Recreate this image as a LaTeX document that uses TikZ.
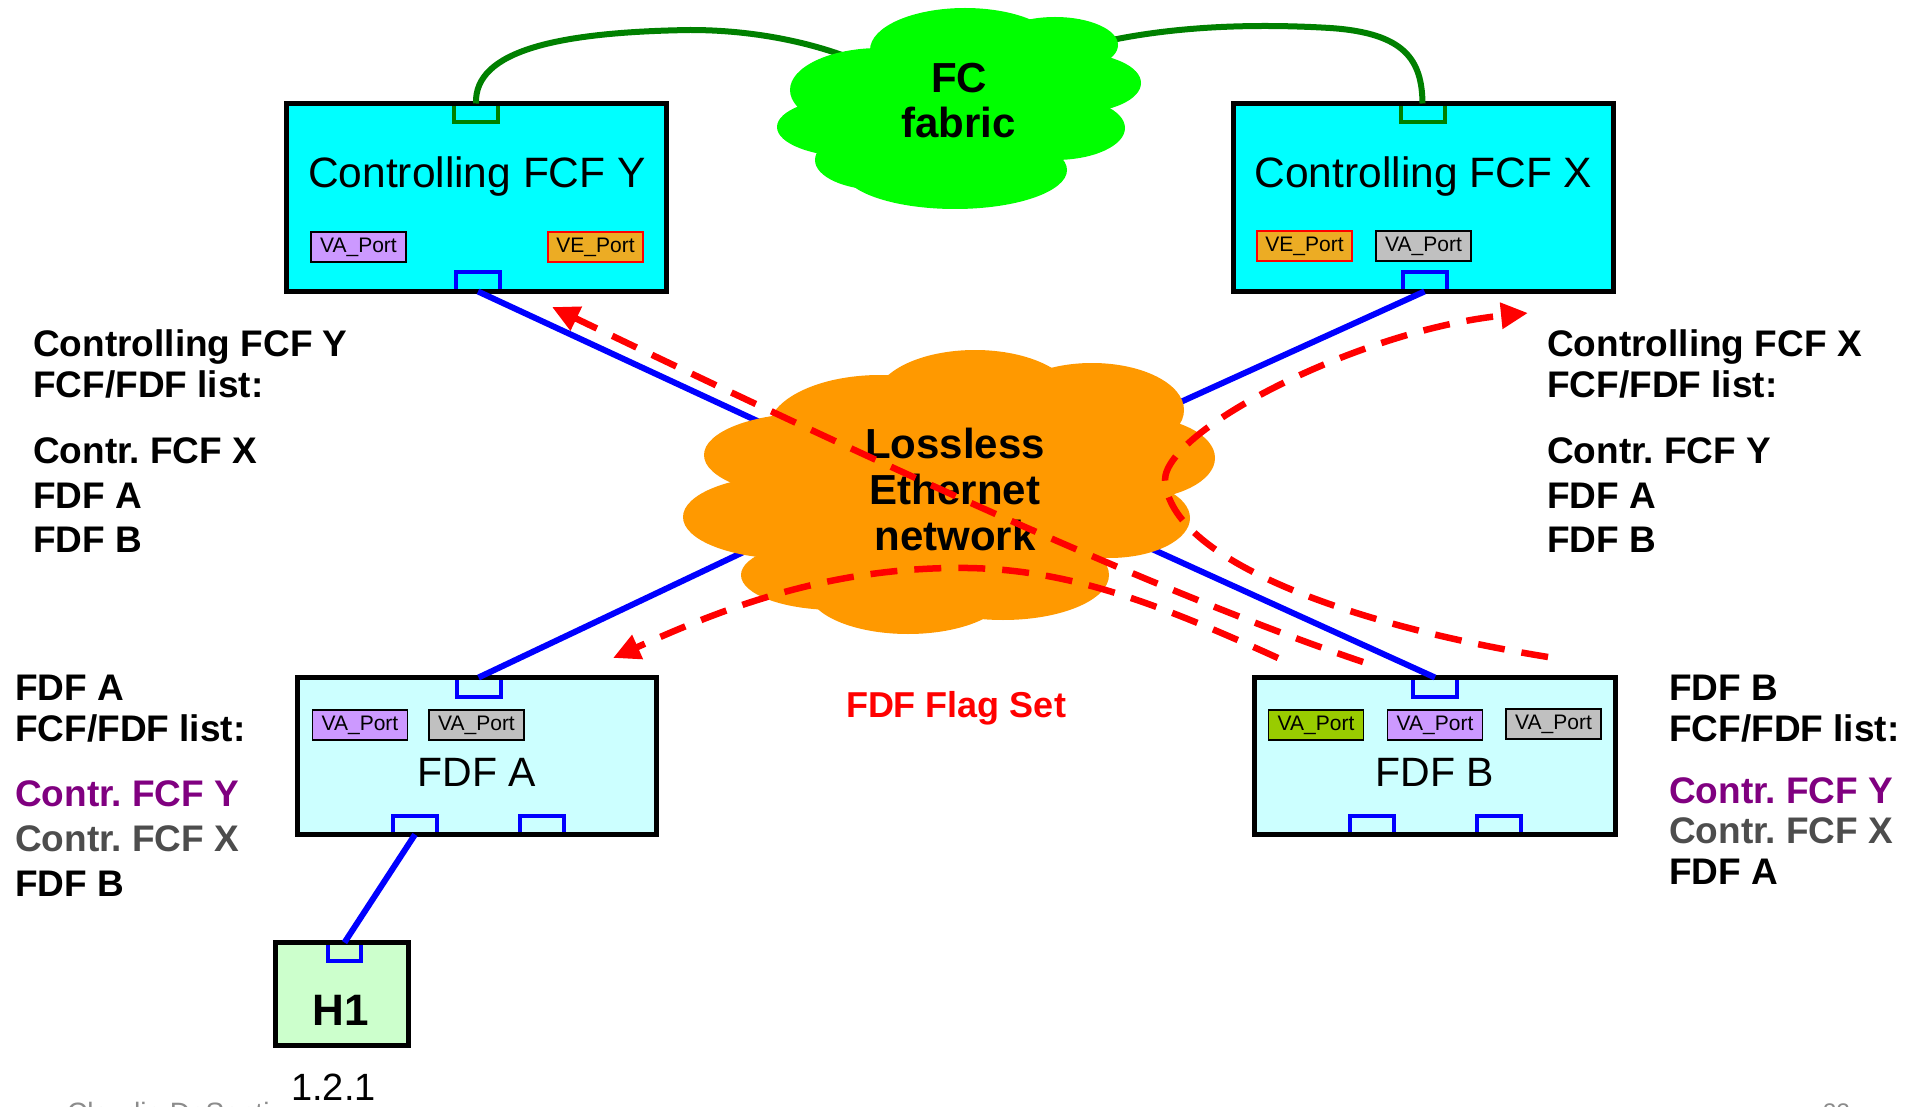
\documentclass[tikz,border=0pt]{standalone}
\usepackage{fontspec}
\setmainfont{Liberation Sans}
\usetikzlibrary{arrows.meta}
\definecolor{cyanbox}{RGB}{0,255,255}
\definecolor{fdfbox}{RGB}{204,255,255}
\definecolor{hbox}{RGB}{204,255,204}
\definecolor{lav}{RGB}{204,153,255}
\definecolor{gry}{RGB}{192,192,192}
\definecolor{veor}{RGB}{236,172,36}
\definecolor{lgreen}{RGB}{153,204,0}
\definecolor{fcgreen}{RGB}{0,255,0}
\definecolor{ethor}{RGB}{255,153,0}
\definecolor{dkgreen}{RGB}{0,128,0}
\definecolor{purp}{RGB}{128,0,128}
\definecolor{dgray}{RGB}{77,77,77}
\definecolor{footgray}{RGB}{140,140,140}
\newcommand{\myfs}[1]{\fontsize{#1}{#1}\selectfont}
\frenchspacing
\begin{document}
\begin{tikzpicture}[x=1pt,y=-1pt,
  box/.style={draw=black, line width=5pt, inner sep=0pt, outer sep=0pt},
  port/.style={draw=blue, line width=4pt, minimum width=44pt, minimum height=19pt, inner sep=0pt, outer sep=0pt},
  gport/.style={port, draw=dkgreen},
  tag/.style={draw=black, line width=1.5pt, minimum width=95pt, minimum height=30pt, inner sep=0pt, font=\myfs{21}},
  vetag/.style={tag, draw=red, fill=veor},
  title/.style={anchor=base, inner sep=0pt, font=\myfs{42.5}},
  link/.style={draw=blue, line width=6pt},
  glink/.style={draw=dkgreen, line width=6pt},
  flag/.style={draw=red, line width=6.5pt, dash pattern=on 27pt off 17pt, -{Triangle[length=27pt,width=25pt]}},
  lst/.style={anchor=base west, inner sep=0pt, font=\bfseries\myfs{37}},
  cloudtxt/.style={anchor=base, inner sep=0pt, font=\bfseries\myfs{42}}
]
\useasboundingbox[fill=white] (0,0) rectangle (1909,1107);

% ---------- boxes ----------
\node[box, fill=cyanbox, minimum width=380pt, minimum height=188pt] (fcfy) at (476.5,197.5) {};
\node[box, fill=cyanbox, minimum width=380pt, minimum height=188pt] (fcfx) at (1423.5,197.5) {};
\node[box, fill=fdfbox, minimum width=359pt, minimum height=157pt] (fdfa) at (477,756) {};
\node[box, fill=fdfbox, minimum width=361pt, minimum height=157pt] (fdfb) at (1435,756) {};
\node[box, fill=hbox, minimum width=133pt, minimum height=103pt] (h1) at (342,994) {};

% titles
\node[title] (tfcfy) at (477,188) {Controlling FCF Y};
\node[title] (tfcfx) at (1423.5,187.5) {Controlling FCF X};
\node[title, font=\myfs{41}] (tfdfa) at (477,786) {FDF A};
\node[title, font=\myfs{41}] (tfdfb) at (1435,786) {FDF B};
\node[anchor=base, inner sep=0pt, font=\bfseries\myfs{44}] (th1) at (341,1025) {H1};

% tags
\node[tag, fill=lav] (ty1) at (358.5,247) {VA\_Port};
\node[vetag] (ty2) at (595.5,247) {VE\_Port};
\node[vetag] (tx1) at (1304.5,246) {VE\_Port};
\node[tag, fill=gry] (tx2) at (1423.5,246) {VA\_Port};
\node[tag, fill=lav] (ta1) at (360,725) {VA\_Port};
\node[tag, fill=gry] (ta2) at (476.5,725) {VA\_Port};
\node[tag, fill=lgreen] (tb1) at (1316,725) {VA\_Port};
\node[tag, fill=lav] (tb2) at (1435,725) {VA\_Port};
\node[tag, fill=gry] (tb3) at (1553.5,724) {VA\_Port};

% ports
\node[gport] (pyt) at (476,113) {};
\node[port] (pyb) at (478,282) {};
\node[gport] (pxt) at (1422.5,113) {};
\node[port] (pxb) at (1424.5,282) {};
\node[port] (pat) at (478.5,687) {};
\node[port] (pa1) at (415,825) {};
\node[port] (pa2) at (542,825) {};
\node[port] (pbt) at (1435,687) {};
\node[port] (pb1) at (1372,825) {};
\node[port] (pb2) at (1498.5,825) {};
\node[port, minimum width=33pt, minimum height=18pt] (ph) at (344.5,951.5) {};

% redraw borders over ports
\foreach \b in {fcfy,fcfx,fdfa,fdfb,h1}
  \draw[black, line width=5pt] (\b.north west) rectangle (\b.south east);

% ---------- links ----------
\coordinate (ey) at (820,450);
\coordinate (ex) at (1110,434);
\coordinate (ea) at (790,530);
\coordinate (eb) at (1110,530);
\coordinate (fl) at (860,62);
\coordinate (fr) at (1090,45);
\draw[link] (pyb.south) -- (ey);
\draw[link] (pxb.south) -- (ex);
\draw[link] (pat.north) -- (ea);
\draw[link] (pbt.north) -- (eb);
\draw[link] (pa1.south) -- (ph.north);
\draw[glink] (pyt.north) .. controls (474,50) and (560,32) .. (690,30) .. controls (760,30) and (820,45) .. (fl);
\draw[glink] (fr) .. controls (1150,30) and (1230,22) .. (1330,28) .. controls (1405,33) and (1422,60) .. (pxt.north);

% ---------- FC fabric cloud ----------
\begin{scope}[fcgreen]
\fill (960,110) ellipse [x radius=130pt, y radius=60pt];
\fill (880,90) ellipse [x radius=90pt, y radius=42pt];
\fill (965,50) ellipse [x radius=95pt, y radius=42pt];
\fill (1055,45) ellipse [x radius=63pt, y radius=28pt];
\fill (1075,83) ellipse [x radius=66pt, y radius=30pt];
\fill (1055,128) ellipse [x radius=70pt, y radius=32pt];
\fill (955,170) ellipse [x radius=112pt, y radius=39pt];
\fill (880,160) ellipse [x radius=65pt, y radius=30pt];
\fill (855,127) ellipse [x radius=78pt, y radius=30pt];
\end{scope}
\node[cloudtxt] (fc1) at (959,93) {FC};
\node[cloudtxt] (fc2) at (958.5,138) {fabric};

% ---------- Ethernet cloud ----------
\begin{scope}[ethor]
\fill (947,490) ellipse [x radius=201pt, y radius=90pt];
\fill (880,430) ellipse [x radius=112pt, y radius=55pt];
\fill (975,400) ellipse [x radius=100pt, y radius=50pt];
\fill (1092,410) ellipse [x radius=92pt, y radius=47pt];
\fill (1131,458) ellipse [x radius=84pt, y radius=42pt];
\fill (1109,518) ellipse [x radius=81pt, y radius=40pt];
\fill (1003,575) ellipse [x radius=106pt, y radius=45pt];
\fill (908,590) ellipse [x radius=100pt, y radius=44pt];
\fill (836,575) ellipse [x radius=95pt, y radius=35pt];
\fill (791,517) ellipse [x radius=108pt, y radius=42pt];
\fill (813,455) ellipse [x radius=109pt, y radius=42pt];
\end{scope}
\node[cloudtxt] (et1) at (955,458) {Lossless};
\node[cloudtxt] (et2) at (955,504) {Ethernet};
\node[cloudtxt] (et3) at (955,550) {network};

% ---------- dashed flag arrows ----------
\coordinate (sb1) at (1363,662);
\coordinate (sb2) at (1278,658);
\coordinate (sb3) at (1548,657);
\coordinate (tipy) at (552,307);
\coordinate (tipa) at (613,658);
\coordinate (tipx) at (1528,313);
\coordinate (mida) at (950,568);
\coordinate (midx) at (1165,480);
\draw[flag] (sb1) .. controls (1150,590) and (850,450) .. (tipy);
\draw[flag] (sb2) .. controls (1150,600) and (1060,566) .. (mida) .. controls (820,570) and (720,610) .. (tipa);
\draw[flag] (sb3) .. controls (1350,625) and (1170,560) .. (midx) .. controls (1165,430) and (1360,330) .. (tipx);

\node[anchor=base, inner sep=0pt, font=\bfseries\myfs{36}, text=red] (flagset) at (956,717) {FDF Flag Set};

% ---------- side lists ----------
\node[lst] (ly1) at (33,356) {Controlling FCF Y};
\node[lst] (ly2) at (33,397) {FCF/FDF list:};
\node[lst] (ly3) at (33,463) {Contr. FCF X};
\node[lst] (ly4) at (33,508) {FDF A};
\node[lst] (ly5) at (33,552) {FDF B};

\node[lst] (lx1) at (1547,356) {Controlling FCF X};
\node[lst] (lx2) at (1547,397) {FCF/FDF list:};
\node[lst] (lx3) at (1547,463) {Contr. FCF Y};
\node[lst] (lx4) at (1547,508) {FDF A};
\node[lst] (lx5) at (1547,552) {FDF B};

\node[lst] (la1) at (15,700) {FDF A};
\node[lst] (la2) at (15,741) {FCF/FDF list:};
\node[lst, text=purp] (la3) at (15,806) {Contr. FCF Y};
\node[lst, text=dgray] (la4) at (15,851) {Contr. FCF X};
\node[lst] (la5) at (15,896) {FDF B};

\node[lst] (lb1) at (1669,700) {FDF B};
\node[lst] (lb2) at (1669,741) {FCF/FDF list:};
\node[lst, text=purp] (lb3) at (1669,803) {Contr. FCF Y};
\node[lst, text=dgray] (lb4) at (1669,843) {Contr. FCF X};
\node[lst] (lb5) at (1669,884) {FDF A};

% ---------- bottom texts ----------
\node[anchor=base, inner sep=0pt, font=\myfs{38}] (addr) at (333.5,1100) {1.2.1};
\node[anchor=base west, inner sep=0pt, font=\myfs{28}, text=footgray] (foot) at (67,1122) {Claudio DeSanti};
\node[anchor=base west, inner sep=0pt, font=\myfs{24}, text=footgray] (pg) at (1823,1120) {33};
\end{tikzpicture}
\end{document}
